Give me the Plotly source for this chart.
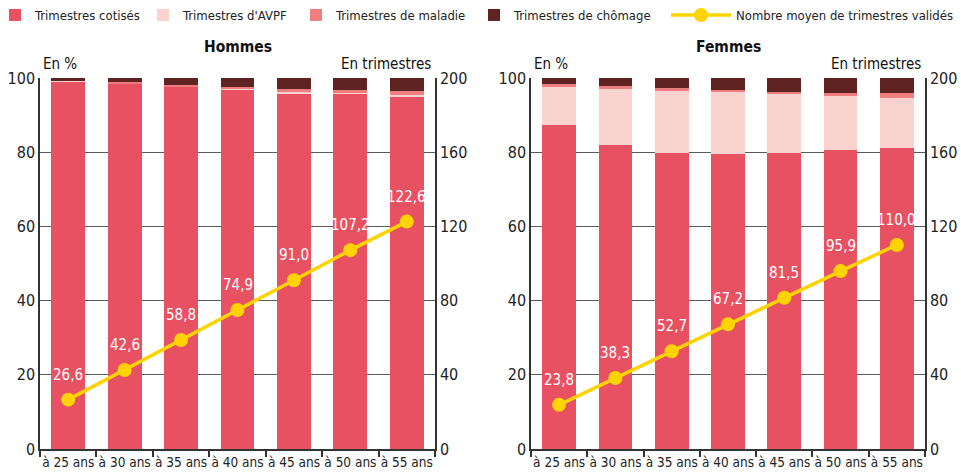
import plotly.graph_objects as go

# Age categories
ages = ["à 25 ans", "à 30 ans", "à 35 ans", "à 40 ans", "à 45 ans", "à 50 ans", "à 55 ans"]

# Hommes: share of validated quarters by type (%)
h_cotises = [99.0, 98.4, 97.6, 96.8, 95.9, 95.7, 94.9]
h_avpf = [0.2, 0.1, 0.1, 0.3, 0.4, 0.3, 0.6]
h_maladie = [0.1, 0.3, 0.5, 0.5, 0.7, 0.8, 1.0]
h_chomage = [0.7, 1.2, 1.8, 2.4, 3.0, 3.2, 3.5]
h_moyen = [26.6, 42.6, 58.8, 74.9, 91.0, 107.2, 122.6]

# Femmes: share of validated quarters by type (%)
f_cotises = [87.3, 81.9, 79.8, 79.5, 79.8, 80.6, 81.1]
f_avpf = [10.5, 15.4, 16.7, 16.8, 15.9, 14.6, 13.6]
f_maladie = [0.5, 0.5, 0.8, 0.5, 0.5, 0.8, 1.3]
f_chomage = [1.7, 2.2, 2.7, 3.2, 3.8, 4.0, 4.0]
f_moyen = [23.8, 38.3, 52.7, 67.2, 81.5, 95.9, 110.0]

series_names = ["Trimestres cotisés", "Trimestres d'AVPF", "Trimestres de maladie", "Trimestres de chômage"]
series_colors = ["#E85162", "#FBD3CE", "#EF7E81", "#5F2322"]
line_name = "Nombre moyen de trimestres validés"
line_color = "#FFD300"

FONT = "DejaVu Sans Condensed, Roboto, sans-serif"
AXIS = "#333333"

# one legend box per entry so the entries can be spread along the top row
legend_ids = ["legend", "legend2", "legend3", "legend4", "legend5"]
legend_text_x = [35, 183, 336, 514, 736]


def fmt(v):
    return f"{v:.1f}".replace(".", ",")


fig = go.Figure()
annotations = []

panels = [
    ("x", "y", "y2", [h_cotises, h_avpf, h_maladie, h_chomage], h_moyen, True),
    ("x2", "y3", "y4", [f_cotises, f_avpf, f_maladie, f_chomage], f_moyen, False),
]

for xa, ya, ya2, stacks, moyen, show in panels:
    for i, (name, color, vals) in enumerate(zip(series_names, series_colors, stacks)):
        fig.add_trace(go.Bar(
            x=ages, y=vals, name=name, marker=dict(color=color, line=dict(width=0)),
            xaxis=xa, yaxis=ya, showlegend=show, legend=legend_ids[i],
            hoverinfo="skip",
        ))
    fig.add_trace(go.Scatter(
        x=ages, y=moyen, name=line_name, mode="lines+markers",
        line=dict(color=line_color, width=3.5),
        marker=dict(color=line_color, size=14),
        xaxis=xa, yaxis=ya2, showlegend=show, legend=legend_ids[4],
        cliponaxis=False, hoverinfo="skip",
    ))
    # value labels above each point of the line
    for a, v in zip(ages, moyen):
        annotations.append(dict(
            x=a, y=v, xref=xa, yref=ya2, text=fmt(v), showarrow=False,
            xanchor="center", yanchor="middle", yshift=25,
            font=dict(color="white", size=15, family=FONT),
        ))

y_dom = [1 - 449 / 475, 1 - 78 / 475]
left_dom = [40 / 961, 435 / 961]
right_dom = [531 / 961, 925 / 961]

xaxis_common = dict(
    type="category", showline=True, linecolor=AXIS, linewidth=2,
    ticks="outside", tickson="boundaries", ticklen=6, tickwidth=1.5, tickcolor=AXIS,
    tickfont=dict(size=13.5, color="#222", family=FONT), tickangle=0, showgrid=False,
    range=[-0.5, 6.5], fixedrange=True, automargin=False,
)
ypct_common = dict(
    range=[0, 100], tickvals=[0, 20, 40, 60, 80, 100], showline=True, linecolor=AXIS,
    linewidth=1.5, showgrid=True, gridcolor="#5a5a5a", gridwidth=1, zeroline=False,
    ticks="", tickfont=dict(size=16, color="#222", family=FONT), domain=y_dom,
    fixedrange=True, automargin=False,
)
ytri_common = dict(
    range=[0, 200], tickvals=[0, 40, 80, 120, 160, 200], showline=True, linecolor=AXIS,
    linewidth=1.5, showgrid=False, zeroline=False, side="right",
    ticks="", tickfont=dict(size=16, color="#222", family=FONT), fixedrange=True,
    automargin=False,
)

legend_layout = {}
for i, (lid, tx) in enumerate(zip(legend_ids, legend_text_x)):
    item_w = 60 if i == 4 else 30
    legend_layout[lid] = dict(
        orientation="h", x=(tx - item_w - 10) / 961, y=1,
        xanchor="left", yanchor="top",
        font=dict(size=13, family=FONT, color="#222"),
        itemwidth=item_w, bgcolor="rgba(0,0,0,0)",
    )

fig.update_layout(
    width=961, height=475,
    margin=dict(l=0, r=0, t=0, b=0, autoexpand=False),
    paper_bgcolor="white", plot_bgcolor="white",
    barmode="stack", bargap=0.4,
    font=dict(family=FONT, color="#222", size=15),
    xaxis=dict(domain=left_dom, anchor="y", **xaxis_common),
    xaxis2=dict(domain=right_dom, anchor="y3", **xaxis_common),
    yaxis=dict(anchor="x", **ypct_common),
    yaxis2=dict(anchor="x", overlaying="y", **ytri_common),
    yaxis3=dict(anchor="x2", **ypct_common),
    yaxis4=dict(anchor="x2", overlaying="y3", **ytri_common),
    showlegend=True,
    **legend_layout,
)

for dom, title in [(left_dom, "Hommes"), (right_dom, "Femmes")]:
    annotations.append(dict(
        text=f"<b>{title}</b>", x=(dom[0] + dom[1]) / 2, y=1 - 47 / 475,
        xref="paper", yref="paper", showarrow=False, xanchor="center", yanchor="middle",
        font=dict(size=15.5, family=FONT, color="#111"),
    ))
    annotations.append(dict(
        text="En %", x=dom[0] + 1 / 961, y=1 - 64 / 475, xref="paper", yref="paper",
        showarrow=False, xanchor="left", yanchor="middle",
        font=dict(size=15, family=FONT, color="#111"),
    ))
    annotations.append(dict(
        text="En trimestres", x=dom[1] - 2 / 961, y=1 - 64 / 475, xref="paper", yref="paper",
        showarrow=False, xanchor="right", yanchor="middle",
        font=dict(size=15, family=FONT, color="#111"),
    ))
fig.update_layout(annotations=annotations)

fig.write_html("out.html")
